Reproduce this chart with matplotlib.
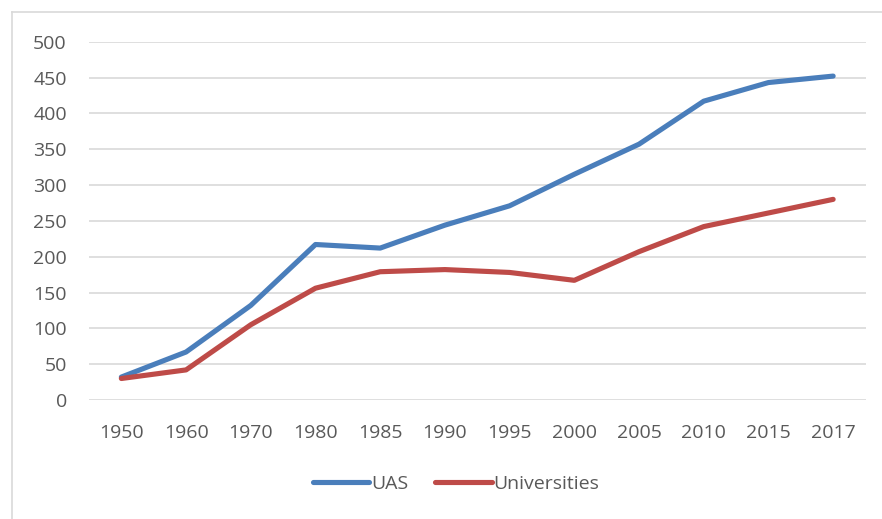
import numpy as np
import matplotlib.pyplot as plt
from matplotlib.lines import Line2D

plt.rcParams['font.family'] = ['Open Sans', 'DejaVu Sans']

years = ['1950', '1960', '1970', '1980', '1985', '1990', '1995',
         '2000', '2005', '2010', '2015', '2017']
uas = [32, 67, 132, 217, 212, 244, 271, 315, 357, 417, 443, 452]
universities = [30, 42, 105, 156, 179, 182, 178, 167, 207, 242, 261, 280]

W, H = 882, 519
fig = plt.figure(figsize=(W / 100, H / 100), dpi=100)

# outer chart border (only top and left visible in the crop)
fig.add_artist(Line2D([12 / W, 1], [1 - 12 / H, 1 - 12 / H], color='#d9d9d9', lw=1.2))
fig.add_artist(Line2D([12 / W, 12 / W], [0, 1 - 12 / H], color='#d9d9d9', lw=1.2))

left, right = 89 / W, 865.5 / W
top, bottom = 1 - 41.7 / H, 1 - 400 / H
ax = fig.add_axes([left, bottom, right - left, top - bottom])

x = np.arange(len(years))
ax.plot(x, uas, color='#4a7ebb', lw=3.7, solid_capstyle='round', label='UAS')
ax.plot(x, universities, color='#be4b48', lw=3.7, solid_capstyle='round', label='Universities')

ax.set_xlim(-0.5, len(years) - 0.5)
ax.set_ylim(0, 500)
ax.set_yticks(np.arange(0, 501, 50))
ax.set_xticks(x)
ax.set_xticklabels(years)
ax.grid(axis='y', color='#d9d9d9', lw=1.2)
ax.set_axisbelow(True)
for s in ax.spines.values():
    s.set_visible(False)
ax.tick_params(length=0, labelsize=14, labelcolor='#595959')
ax.tick_params(axis='y', pad=16)
ax.tick_params(axis='x', pad=17)

leg = fig.legend(loc='center', bbox_to_anchor=(456 / W, 1 - 484 / H), ncol=2,
                 frameon=False, fontsize=14, handlelength=2.9, handletextpad=0.1,
                 columnspacing=1.4)
for t in leg.get_texts():
    t.set_color('#595959')

fig.savefig('out.png', dpi=100)
